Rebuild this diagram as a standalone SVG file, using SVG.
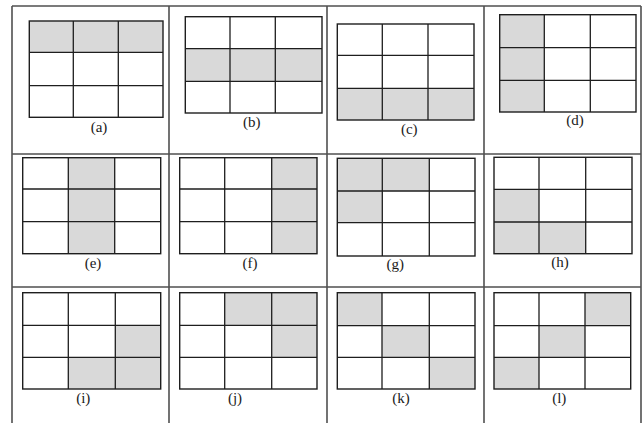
<svg xmlns="http://www.w3.org/2000/svg" width="643" height="423" viewBox="0 0 643 423">
<style>
.s{fill:#d9d9d9;stroke:none}
.o{fill:none;stroke:#1e1e1e;stroke-width:1.4}
.l{fill:none;stroke:#1e1e1e;stroke-width:1.3}
.t{fill:none;stroke:#505050;stroke-width:1.6}
.lb{font-family:'Liberation Serif','Times New Roman',serif;font-size:15px;fill:#1a1a1a;text-anchor:middle}
</style>
<rect width="643" height="423" fill="#fff"/>
<g id="table">
<path class="t" d="M12 6H641M12 6V423M641 6V423M169 6V423M327 6V423M484 6V423M12 154H641M12 287H641"/>
</g>
<g id="a">
<rect class="s" x="29.3" y="21" width="133.7" height="31.3"/>
<path class="l" d="M73.3 21V117.3M118.3 21V117.3M29.3 52.3H163M29.3 85.7H163"/>
<rect class="o" x="29.3" y="21" width="133.7" height="96.3"/>
<text class="lb" font-family="Liberation Serif, serif" x="99" y="132">(a)</text>
</g>
<g id="b">
<rect class="s" x="185.3" y="48.7" width="136.7" height="32.6"/>
<path class="l" d="M230 16.7V113M275.3 16.7V113M185.3 48.7H322M185.3 81.3H322"/>
<rect class="o" x="185.3" y="16.7" width="136.7" height="96.3"/>
<text class="lb" font-family="Liberation Serif, serif" x="251.7" y="126.5">(b)</text>
</g>
<g id="c">
<rect class="s" x="337.3" y="88.3" width="136.7" height="31.7"/>
<path class="l" d="M382.3 24V120M428 24V120M337.3 55.3H474M337.3 88.3H474"/>
<rect class="o" x="337.3" y="24" width="136.7" height="96"/>
<text class="lb" font-family="Liberation Serif, serif" x="409.3" y="134">(c)</text>
</g>
<g id="d">
<rect class="s" x="499.7" y="14.7" width="44.6" height="97.3"/>
<path class="l" d="M544.3 14.7V112M590.3 14.7V112M499.7 47.7H636M499.7 80.3H636"/>
<rect class="o" x="499.7" y="14.7" width="136.3" height="97.3"/>
<text class="lb" font-family="Liberation Serif, serif" x="575" y="125">(d)</text>
</g>
<g id="e">
<rect class="s" x="68.3" y="157.7" width="46.4" height="96"/>
<path class="l" d="M68.3 157.7V253.7M114.7 157.7V253.7M22.7 189H160.7M22.7 221.7H160.7"/>
<rect class="o" x="22.7" y="157.7" width="138" height="96"/>
<text class="lb" font-family="Liberation Serif, serif" x="93" y="268">(e)</text>
</g>
<g id="f">
<rect class="s" x="271.7" y="157.7" width="45.3" height="96"/>
<path class="l" d="M224.7 157.7V253.7M271.7 157.7V253.7M179.7 189H317M179.7 221.7H317"/>
<rect class="o" x="179.7" y="157.7" width="137.3" height="96"/>
<text class="lb" font-family="Liberation Serif, serif" x="250" y="268">(f)</text>
</g>
<g id="g">
<rect class="s" x="337.3" y="158.3" width="92" height="32.7"/>
<rect class="s" x="337.3" y="191" width="45" height="31.7"/>
<path class="l" d="M382.3 158.3V256M429.3 158.3V256M337.3 191H475M337.3 222.7H475"/>
<rect class="o" x="337.3" y="158.3" width="137.7" height="97.7"/>
<text class="lb" font-family="Liberation Serif, serif" x="395.3" y="268.5">(g)</text>
</g>
<g id="h">
<rect class="s" x="494" y="189.3" width="45" height="64.4"/>
<rect class="s" x="539" y="222" width="46.7" height="31.7"/>
<path class="l" d="M539 157.3V253.7M585.7 157.3V253.7M494 189.3H632M494 222H632"/>
<rect class="o" x="494" y="157.3" width="138" height="96.4"/>
<text class="lb" font-family="Liberation Serif, serif" x="560" y="266.5">(h)</text>
</g>
<g id="i">
<rect class="s" x="115.3" y="325.3" width="45.4" height="63.7"/>
<rect class="s" x="68.3" y="357.3" width="47" height="31.7"/>
<path class="l" d="M68.3 292.7V389M115.3 292.7V389M22.7 325.3H160.7M22.7 357.3H160.7"/>
<rect class="o" x="22.7" y="292.7" width="138" height="96.3"/>
<text class="lb" font-family="Liberation Serif, serif" x="83.3" y="403">(i)</text>
</g>
<g id="j">
<rect class="s" x="224.7" y="292.7" width="92.3" height="32.6"/>
<rect class="s" x="271.7" y="325.3" width="45.3" height="32"/>
<path class="l" d="M224.7 292.7V389M271.7 292.7V389M179.7 325.3H317M179.7 357.3H317"/>
<rect class="o" x="179.7" y="292.7" width="137.3" height="96.3"/>
<text class="lb" font-family="Liberation Serif, serif" x="235" y="403">(j)</text>
</g>
<g id="k">
<rect class="s" x="337.3" y="292.7" width="44.7" height="33"/>
<rect class="s" x="382" y="325.7" width="47.3" height="31.6"/>
<rect class="s" x="429.3" y="357.3" width="45.7" height="31.7"/>
<path class="l" d="M382 292.7V389M429.3 292.7V389M337.3 325.7H475M337.3 357.3H475"/>
<rect class="o" x="337.3" y="292.7" width="137.7" height="96.3"/>
<text class="lb" font-family="Liberation Serif, serif" x="401" y="403">(k)</text>
</g>
<g id="l">
<rect class="s" x="585" y="292.7" width="45.7" height="33"/>
<rect class="s" x="539" y="325.7" width="46" height="31.6"/>
<rect class="s" x="494" y="357.3" width="45" height="31.7"/>
<path class="l" d="M539 292.7V389M585 292.7V389M494 325.7H630.7M494 357.3H630.7"/>
<rect class="o" x="494" y="292.7" width="136.7" height="96.3"/>
<text class="lb" font-family="Liberation Serif, serif" x="559.3" y="403">(l)</text>
</g>
</svg>
